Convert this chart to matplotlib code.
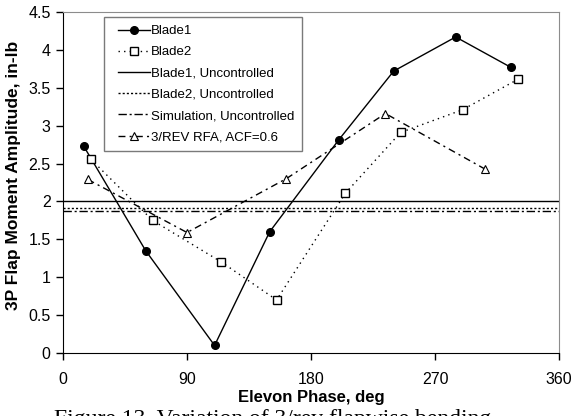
import matplotlib.pyplot as plt
from matplotlib.lines import Line2D
from matplotlib.legend_handler import HandlerLine2D

plt.rcParams['font.family'] = ['Liberation Sans', 'DejaVu Sans']

# elevon phase (deg) and 3P flap moment amplitude (in-lb)
blade1_phase = [15, 60, 110, 150, 200, 240, 285, 325]
blade1_amp = [2.73, 1.35, 0.10, 1.60, 2.81, 3.72, 4.17, 3.77]
blade2_phase = [20, 65, 115, 155, 205, 245, 290, 330]
blade2_amp = [2.56, 1.75, 1.20, 0.70, 2.11, 2.91, 3.21, 3.61]
rfa_phase = [18, 90, 162, 234, 306]
rfa_amp = [2.29, 1.59, 2.30, 3.16, 2.43]

# uncontrolled baselines
blade1_unc = 2.0
blade2_unc = 1.91
sim_unc = 1.87

xticks = [0, 90, 180, 270, 360]
yticks = [0, 0.5, 1, 1.5, 2, 2.5, 3, 3.5, 4, 4.5]

fig = plt.figure(figsize=(5.73, 4.16), dpi=100)
ax = fig.add_axes([0.110, 0.1514, 0.8656, 0.8198])

ax.plot(blade1_phase, blade1_amp, '-', color='k', lw=1, marker='o',
        ms=5.5, mfc='k', mec='k', label='Blade1')
ax.plot(blade2_phase, blade2_amp, color='k', lw=1, ls=(0, (1, 3)),
        marker='s', ms=5.5, mfc='w', mec='k', mew=1, label='Blade2')
ax.axhline(blade1_unc, color='k', lw=1, ls='-', label='Blade1, Uncontrolled')
ax.axhline(blade2_unc, color='k', lw=1, ls=(0, (1.5, 1.5)),
           label='Blade2, Uncontrolled')
ax.axhline(sim_unc, color='k', lw=1, ls=(0, (6, 2, 1.5, 2)),
           label='Simulation, Uncontrolled')
ax.plot(rfa_phase, rfa_amp, color='k', lw=1, ls=(0, (5, 3, 1.5, 3)),
        marker='^', ms=5.5, mfc='w', mec='k', mew=0.8,
        label='3/REV RFA, ACF=0.6')

ax.set_xlim(0, 360)
ax.set_ylim(0, 4.5)
ax.set_xticks(xticks)
ax.set_xticklabels([str(t) for t in xticks])
ax.set_yticks(yticks)
ax.set_yticklabels(['0', '0.5', '1', '1.5', '2', '2.5', '3', '3.5', '4', '4.5'])
ax.tick_params(direction='out', length=5, width=1, labelsize=11.5)
ax.tick_params(axis='x', pad=9)
ax.tick_params(axis='y', pad=4)

for side in ['top', 'right']:
    ax.spines[side].set_color('#8c8c8c')
for side in ['left', 'bottom']:
    ax.spines[side].set_color('k')

ax.set_xlabel('Elevon Phase, deg', fontsize=12, fontweight='bold')
ax.xaxis.set_label_coords(0.5, -0.108)
ax.set_ylabel('3P Flap Moment Amplitude, in-lb', fontsize=12.5,
              fontweight='bold')
ax.yaxis.set_label_coords(-0.084, 0.52)

# legend handles sit a little in from the frame
leg = ax.legend(loc='upper left', bbox_to_anchor=(0.0827, 0.985),
                borderaxespad=0, fontsize=9.5, handlelength=2.9,
                handletextpad=0.05, labelspacing=0.68, fancybox=False,
                framealpha=1, borderpad=0.6,
                handler_map={Line2D: HandlerLine2D(xpad=0.45)})
leg.get_frame().set_edgecolor('#7a7a7a')
leg.get_frame().set_linewidth(1)

fig.text(0.095, 0.018, 'Figure 13. Variation of 3/rev flapwise bending',
         family='Liberation Serif', fontsize=17, va='top', ha='left')

fig.savefig('out.png', dpi=100)
